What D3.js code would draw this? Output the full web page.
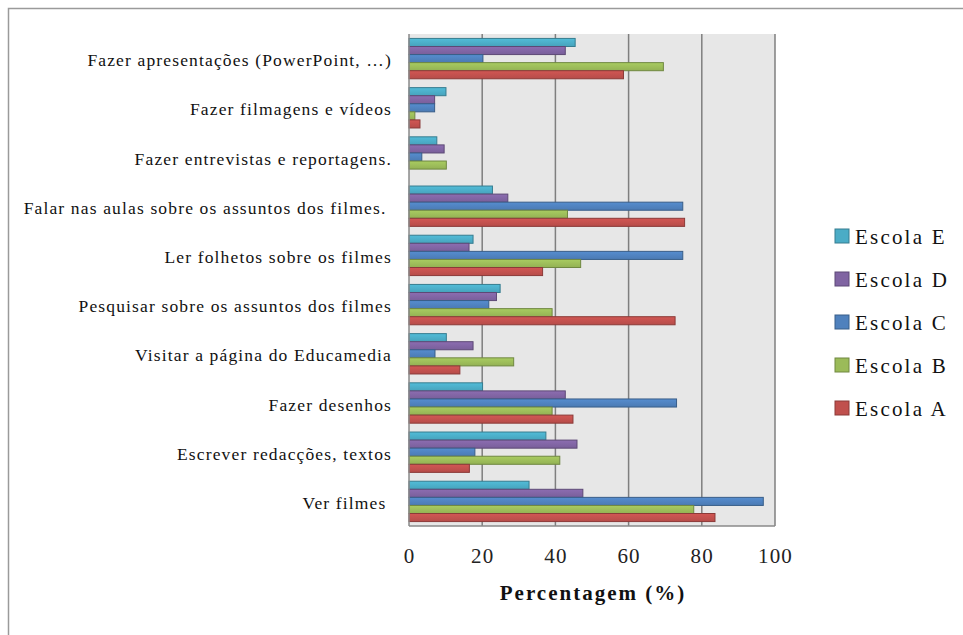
<!DOCTYPE html>
<html>
<head>
<meta charset="utf-8">
<script src="https://cdn.jsdelivr.net/npm/d3@7"></script>
<style>
  html, body { margin: 0; padding: 0; background: #ffffff; }
  svg { display: block; }
  text { white-space: pre; }
</style>
</head>
<body>
<svg id="chart" width="963" height="635"></svg>
<script>
// Activities, listed from top to bottom
const categories = [
  "Fazer apresentações (PowerPoint, …)",
  "Fazer filmagens e vídeos",
  "Fazer entrevistas e reportagens.",
  "Falar nas aulas sobre os assuntos dos filmes. ",
  "Ler folhetos sobre os filmes",
  "Pesquisar sobre os assuntos dos filmes",
  "Visitar a página do Educamedia",
  "Fazer desenhos",
  "Escrever redacções, textos",
  "Ver filmes "
];

// Series, in the order they are stacked inside each group (top to bottom)
const seriesNames = ["Escola E", "Escola D", "Escola C", "Escola B", "Escola A"];

// Percentages per school, one value per activity (same order as categories)
const escolaE = [45.4, 10.1, 7.6, 22.8, 17.5, 24.9, 10.2, 20.1, 37.4, 32.8];
const escolaD = [42.7, 7.0, 9.6, 27.0, 16.4, 23.9, 17.5, 42.7, 45.9, 47.5];
const escolaC = [20.2, 7.0, 3.5, 74.8, 74.8, 21.8, 7.1, 73.1, 18.0, 96.8];
const escolaB = [69.5, 1.6, 10.2, 43.3, 46.9, 39.1, 28.6, 39.1, 41.2, 77.8];
const escolaA = [58.6, 3.0, 0, 75.3, 36.5, 72.7, 13.9, 44.8, 16.5, 83.6];

const xTicks = [0, 20, 40, 60, 80, 100];
const xTitle = "Percentagem (%)";

const seriesValues = [escolaE, escolaD, escolaC, escolaB, escolaA];
const seriesColors = ["#4BACC6", "#8064A2", "#4F81BD", "#9BBB59", "#C0504D"];

const svg = d3.select("#chart");
const serif = "'Liberation Serif', 'Times New Roman', serif";

// Outer chart frame (continues past the right and bottom edges)
svg.append("rect")
  .attr("x", 8.5).attr("y", 8.5)
  .attr("width", 1000).attr("height", 700)
  .attr("fill", "#ffffff")
  .attr("stroke", "#9a9a9a")
  .attr("stroke-width", 1.5);

const plot = { left: 409, right: 775, top: 34, bottom: 526 };

const x = d3.scaleLinear().domain([0, 100]).range([plot.left, plot.right]);
const y = d3.scaleBand().domain(categories).range([plot.top, plot.bottom]).paddingInner(0.18).paddingOuter(0.09);
const ySub = d3.scaleBand().domain(seriesNames).range([0, y.bandwidth()]);

// Plot area background
svg.append("rect")
  .attr("x", plot.left).attr("y", plot.top)
  .attr("width", plot.right - plot.left).attr("height", plot.bottom - plot.top)
  .attr("fill", "#e7e7e7");

// Vertical gridlines
svg.append("g")
  .selectAll("line")
  .data(xTicks.filter(t => t > 0))
  .join("line")
  .attr("x1", d => x(d)).attr("x2", d => x(d))
  .attr("y1", plot.top).attr("y2", plot.bottom)
  .attr("stroke", "#7f7f7f")
  .attr("stroke-width", 1.5);

// Gradients for the bars
const defs = svg.append("defs");
seriesColors.forEach((c, i) => {
  const g = defs.append("linearGradient")
    .attr("id", "grad" + i)
    .attr("x1", 0).attr("y1", 0).attr("x2", 0).attr("y2", 1);
  g.append("stop").attr("offset", "0%").attr("stop-color", d3.color(c).brighter(0.25));
  g.append("stop").attr("offset", "100%").attr("stop-color", d3.color(c).darker(0.15));
});

// Bars
const groups = svg.append("g")
  .selectAll("g")
  .data(categories)
  .join("g")
  .attr("transform", d => `translate(0,${y(d)})`);

groups.selectAll("rect")
  .data((d, ci) => seriesNames.map((s, si) => ({ s, si, v: seriesValues[si][ci] })))
  .join("rect")
  .filter(d => d.v > 0)
  .attr("x", x(0))
  .attr("y", d => ySub(d.s))
  .attr("width", d => x(d.v) - x(0))
  .attr("height", ySub.bandwidth())
  .attr("fill", d => `url(#grad${d.si})`)
  .attr("stroke", d => d3.color(seriesColors[d.si]).darker(0.9))
  .attr("stroke-width", 1);

// Plot border lines (left axis and bottom)
svg.append("line")
  .attr("x1", plot.left).attr("x2", plot.left)
  .attr("y1", plot.top).attr("y2", plot.bottom)
  .attr("stroke", "#8a8a8a").attr("stroke-width", 1.5);
svg.append("line")
  .attr("x1", plot.left).attr("x2", plot.right)
  .attr("y1", plot.bottom).attr("y2", plot.bottom)
  .attr("stroke", "#8a8a8a").attr("stroke-width", 1.5);

// X axis tick labels
const xAxis = d3.axisBottom(x).tickValues(xTicks).tickSize(0).tickPadding(0);
const gx = svg.append("g")
  .attr("transform", `translate(0,563)`)
  .call(xAxis);
gx.select(".domain").remove();
gx.selectAll("text")
  .attr("dy", 0)
  .attr("y", 0)
  .style("font-family", serif)
  .style("font-size", "21px")
  .style("letter-spacing", "1.2px")
  .attr("fill", "#222");

// X axis title
svg.append("text")
  .attr("x", (plot.left + plot.right) / 2 + 1)
  .attr("y", 600)
  .attr("text-anchor", "middle")
  .style("font-family", serif)
  .style("font-weight", "bold")
  .style("font-size", "21px")
  .style("letter-spacing", "2px")
  .attr("fill", "#111")
  .text(xTitle);

// Category labels
const yAxis = d3.axisLeft(y).tickSize(0).tickPadding(0);
const gy = svg.append("g")
  .attr("transform", `translate(${plot.left - 17},2)`)
  .call(yAxis);
gy.select(".domain").remove();
gy.selectAll("text")
  .style("font-family", serif)
  .style("font-size", "17.5px")
  .style("letter-spacing", "1.15px")
  .attr("fill", "#111");

// Legend
const legend = svg.append("g")
  .selectAll("g")
  .data(seriesNames)
  .join("g")
  .attr("transform", (d, i) => `translate(835,${236 + i * 43})`);
legend.append("rect")
  .attr("x", 0).attr("y", -7)
  .attr("width", 14).attr("height", 14)
  .attr("fill", (d, i) => seriesColors[i])
  .attr("stroke", (d, i) => d3.color(seriesColors[i]).darker(0.9))
  .attr("stroke-width", 1);
legend.append("text")
  .attr("x", 20).attr("y", 8)
  .style("font-family", serif)
  .style("font-size", "21px")
  .style("letter-spacing", "2.2px")
  .attr("fill", "#111")
  .text(d => d);
</script>
</body>
</html>
